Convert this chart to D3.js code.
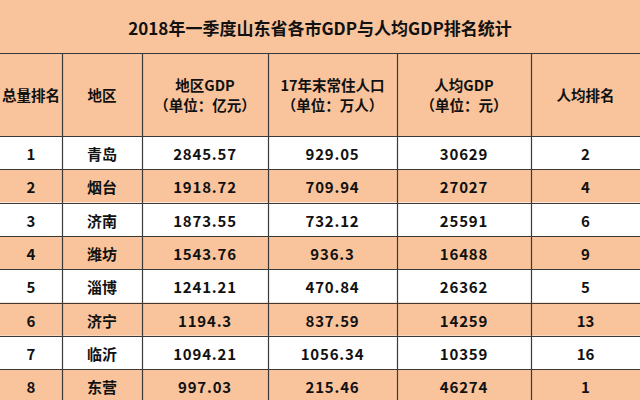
<!DOCTYPE html>
<html><head><meta charset="utf-8">
<script src="https://cdn.jsdelivr.net/npm/d3@7"></script>
<style>
html,body{margin:0;padding:0;background:#fff;}
svg{display:block;}
text{font-family:"Noto Sans CJK SC","Noto Sans",sans-serif;fill:#111;}
</style></head>
<body>
<script>
const title = "2018年一季度山东省各市GDP与人均GDP排名统计";
const headers = [["总量排名"], ["地区"], ["地区GDP", "（单位：亿元）"], ["17年末常住人口", "（单位：万人）"], ["人均GDP", "（单位：元）"], ["人均排名"]];
const ranks = ["1","2","3","4","5","6","7","8"];
const regions = ["青岛","烟台","济南","潍坊","淄博","济宁","临沂","东营"];
const gdp = ["2845.57","1918.72","1873.55","1543.76","1241.21","1194.3","1094.21","997.03"];
const population = ["929.05","709.94","732.12","936.3","470.84","837.59","1056.34","215.46"];
const perCapita = ["30629","27027","25591","16488","26362","14259","10359","46274"];
const perCapitaRank = ["2","4","6","9","5","13","16","1"];

const W = 640, H = 400;
const orange = "#F9C49C";
const lineColor = "#3a3a3a";
const colEdges = [0, 62, 142, 268, 397, 531, 640];
const titleTop = 0, headerTop = 53, dataTop = 136, rowH = 33.3;

const svg = d3.select("body").append("svg").attr("width", W).attr("height", H);

const rows = d3.range(ranks.length);
const y = d3.scaleBand().domain(rows).range([dataTop, dataTop + rowH * rows.length]).padding(0);
const colIdx = d3.range(6);
const colLeft = i => colEdges[i];
const colW = i => colEdges[i + 1] - colEdges[i];
const colC = i => (colEdges[i] + colEdges[i + 1]) / 2;

// backgrounds
svg.append("rect").attr("x", 0).attr("y", titleTop).attr("width", W).attr("height", headerTop - titleTop).attr("fill", orange);
svg.append("rect").attr("x", 0).attr("y", headerTop).attr("width", W).attr("height", dataTop - headerTop).attr("fill", orange);
svg.selectAll("rect.row").data(rows).join("rect").attr("class", "row")
  .attr("x", 0).attr("y", d => y(d)).attr("width", W).attr("height", y.bandwidth())
  .attr("fill", d => d % 2 === 1 ? orange : "#ffffff");

// title
svg.append("text").attr("x", 320).attr("y", 27).attr("text-anchor", "middle").attr("dominant-baseline", "central")
  .attr("font-size", 17).attr("font-weight", "bold").text(title);

// grid lines
const hLines = [headerTop, dataTop].concat(rows.map(r => y(r) + y.bandwidth()));
svg.selectAll("line.h").data(hLines).join("line").attr("class", "h")
  .attr("x1", 0).attr("x2", W).attr("y1", d => Math.round(d) + 0.5).attr("y2", d => Math.round(d) + 0.5)
  .attr("stroke", lineColor).attr("stroke-width", 1.2);
svg.selectAll("line.v").data(colEdges.slice(1, 6)).join("line").attr("class", "v")
  .attr("x1", d => d + 0.5).attr("x2", d => d + 0.5).attr("y1", headerTop).attr("y2", H)
  .attr("stroke", lineColor).attr("stroke-width", 1.2);

// headers
const hc = (headerTop + dataTop) / 2;
headers.forEach((lines, i) => {
  const t = svg.append("text").attr("text-anchor", "middle").attr("font-size", 14.5).attr("font-weight", "bold");
  lines.forEach((s, k) => {
    const dy = lines.length === 1 ? 0 : (k === 0 ? -10 : 10);
    t.append("tspan").attr("x", colC(i)).attr("y", hc + dy).attr("dominant-baseline", "central").text(s);
  });
});

// data
const cols = [ranks, regions, gdp, population, perCapita, perCapitaRank];
cols.forEach((arr, i) => {
  svg.selectAll("text.c" + i).data(arr).join("text").attr("class", "c" + i)
    .attr("x", colC(i)).attr("y", (d, r) => y(r) + y.bandwidth() / 2 + 1)
    .attr("text-anchor", "middle").attr("dominant-baseline", "central")
    .attr("font-size", 15).attr("font-weight", "bold")
    .attr("letter-spacing", i >= 2 && i <= 4 ? 0.8 : 0)
    .text(d => d);
});
</script>
</body></html>
